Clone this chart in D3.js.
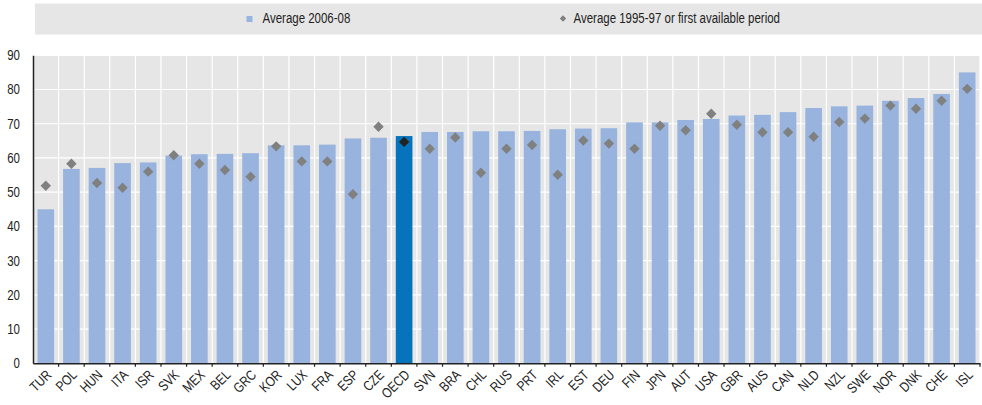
<!DOCTYPE html>
<html>
<head>
<meta charset="utf-8">
<script src="https://d3js.org/d3.v7.min.js"></script>
<style>
  body { margin:0; background:#fff; }
  svg text { font-family: "Liberation Sans", Arial, sans-serif; font-size:14px; fill:#222; }
  .xlab { transform-box: view-box; transform-origin: 0 0; }
</style>
</head>
<body>
<svg id="chart" width="982" height="405"></svg>
<script>
// data
var countries = ["TUR","POL","HUN","ITA","ISR","SVK","MEX","BEL","GRC","KOR","LUX","FRA","ESP","CZE","OECD",
  "SVN","BRA","CHL","RUS","PRT","IRL","EST","DEU","FIN","JPN","AUT","USA","GBR","AUS","CAN","NLD","NZL",
  "SWE","NOR","DNK","CHE","ISL"];
var avg2006 = [45.0,56.8,57.1,58.5,58.7,60.7,61.1,61.2,61.4,63.7,63.7,63.9,65.7,65.9,66.4,
  67.6,67.6,67.8,67.8,67.9,68.4,68.6,68.7,70.4,70.4,71.1,71.4,72.4,72.6,73.4,74.6,75.1,
  75.3,76.7,77.5,78.7,85.0];
var avg1995 = [51.9,58.3,52.7,51.3,56.0,60.8,58.3,56.5,54.5,63.4,59.0,59.0,49.4,69.1,64.7,
  62.7,66.0,55.7,62.7,63.8,55.1,65.1,64.2,62.7,69.4,68.1,72.9,69.7,67.5,67.5,66.2,70.5,
  71.5,75.3,74.4,76.7,80.2];
var yTicks = [0,10,20,30,40,50,60,70,80,90];
var legendLabels = ["Average 2006-08","Average 1995-97 or first available period"];

var svg = d3.select("#chart");
var pLeft = 33, pRight = 980, pTop = 55.3, pBottom = 363.3;
var narrow = "scale(0.82,1)";

var x = d3.scaleBand().domain(countries).range([pLeft, pRight]).paddingInner(0.35).paddingOuter(0.175);
var xg = d3.scaleBand().domain(countries).range([pLeft, pRight]).padding(0);
var y = d3.scaleLinear().domain([0, 90]).range([pBottom, pTop]);

// legend box
svg.append("rect").attr("x", 35).attr("y", 3.5).attr("width", 947).attr("height", 31).attr("fill", "#e6e6e6");
svg.append("rect").attr("x", 246.5).attr("y", 16).attr("width", 6).attr("height", 6).attr("fill", "#98b4de");
svg.append("text").attr("transform", "translate(262.5,23) " + narrow).text(legendLabels[0]);
svg.append("path").attr("d", "M0,-3.2L3.2,0L0,3.2L-3.2,0Z").attr("transform", "translate(563,18.5)").attr("fill", "#808080");
svg.append("text").attr("transform", "translate(573.5,23) " + narrow).text(legendLabels[1]);

// plot background
svg.append("rect").attr("x", pLeft).attr("y", pTop).attr("width", pRight - pLeft).attr("height", pBottom - pTop).attr("fill", "#e6e6e6");

// grid
svg.append("g").selectAll("line").data(yTicks.slice(1)).enter().append("line")
  .attr("x1", pLeft).attr("x2", pRight).attr("y1", function(d){ return y(d); }).attr("y2", function(d){ return y(d); })
  .attr("stroke", "#fff").attr("stroke-width", 1.2);
svg.append("g").selectAll("line").data(countries.slice(1)).enter().append("line")
  .attr("x1", function(d){ return xg(d); }).attr("x2", function(d){ return xg(d); })
  .attr("y1", pTop).attr("y2", pBottom).attr("stroke", "#fff").attr("stroke-width", 1.2);
svg.append("line").attr("x1", pRight).attr("x2", pRight).attr("y1", pTop).attr("y2", pBottom).attr("stroke", "#fff").attr("stroke-width", 1.2);

// bars
svg.append("g").selectAll("rect").data(countries).enter().append("rect")
  .attr("x", function(d){ return x(d); })
  .attr("width", x.bandwidth())
  .attr("y", function(d, i){ return y(avg2006[i]); })
  .attr("height", function(d, i){ return pBottom - y(avg2006[i]); })
  .attr("fill", function(d){ return d == "OECD" ? "#0673bd" : "#98b4de"; });

// diamonds
svg.append("g").selectAll("path").data(countries).enter().append("path")
  .attr("d", "M0,-5.2L5.2,0L0,5.2L-5.2,0Z")
  .attr("transform", function(d, i){ return "translate(" + (x(d) + x.bandwidth() / 2) + "," + y(avg1995[i]) + ")"; })
  .attr("fill", function(d){ return d == "OECD" ? "#222222" : "#808080"; });

// y axis
var yAxis = svg.append("g").attr("transform", "translate(" + pLeft + ",0)")
  .call(d3.axisLeft(y).tickValues(yTicks).tickSize(0).tickFormat(""));
yAxis.select(".domain").attr("stroke", "#222").attr("stroke-width", 1.5);
svg.append("g").selectAll("text").data(yTicks).enter().append("text")
  .attr("transform", function(d){ return "translate(20," + y(d) + ") " + narrow; })
  .attr("text-anchor", "end").attr("dy", "0.35em")
  .text(function(d){ return d; });

// x axis
var xAxis = svg.append("g").attr("transform", "translate(0," + pBottom + ")")
  .call(d3.axisBottom(xg).tickSize(0).tickFormat(""));
xAxis.select(".domain").attr("stroke", "#222").attr("stroke-width", 1.5);
svg.append("g").selectAll("line").data(countries).enter().append("line")
  .attr("x1", function(d){ return xg(d) + xg.bandwidth(); }).attr("x2", function(d){ return xg(d) + xg.bandwidth(); })
  .attr("y1", pBottom).attr("y2", pBottom + 3.5).attr("stroke", "#222").attr("stroke-width", 1.2);
svg.append("g").selectAll("text").data(countries).enter().append("text")
  .attr("class", "xlab")
  .style("transform", function(d){
    var tx = x(d) + x.bandwidth() / 2 + 3, ty = pBottom + 9;
    return "translate(" + tx + "px," + ty + "px) rotate(-45deg) scaleX(0.82)";
  })
  .attr("text-anchor", "end")
  .attr("dy", "0.35em")
  .text(function(d){ return d; });
</script>
</body>
</html>
